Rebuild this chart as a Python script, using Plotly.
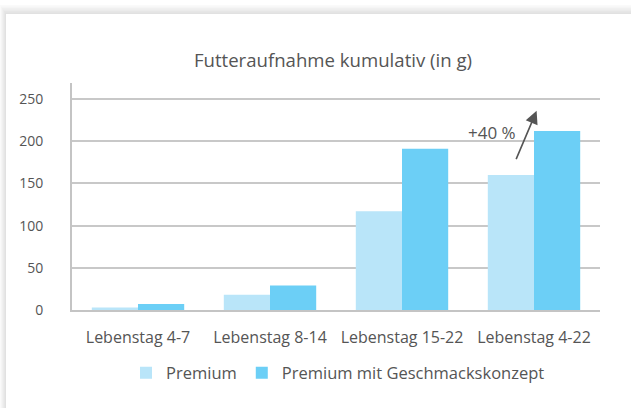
import plotly.graph_objects as go

categories = ["Lebenstag 4-7", "Lebenstag 8-14", "Lebenstag 15-22", "Lebenstag 4-22"]
premium = [3, 18, 117, 160]
premium_gk = [7, 29, 191, 212]
series_names = ["Premium", "Premium mit Geschmackskonzept"]
y_ticks = [0, 50, 100, 150, 200, 250]
annotation_text = "+40 %"

W, H = 631, 408
L, R, T, B = 72, 31, 83, 98
pw, ph = W - L - R, H - T - B
FONT = "Open Sans"
TXT = "#555555"

def px_x(x):
    return (x - L) / pw

def px_y(y):
    return (H - B - y) / ph

fig = go.Figure()
fig.add_trace(go.Bar(x=categories, y=premium, name=series_names[0],
                     marker=dict(color="#b9e5f9", line=dict(width=0))))
fig.add_trace(go.Bar(x=categories, y=premium_gk, name=series_names[1],
                     marker=dict(color="#6ccff6", line=dict(width=0))))

shapes = []
# card shadow
for k in range(6, 0, -1):
    shapes.append(dict(type="rect", xref="paper", yref="paper", layer="below",
                       x0=px_x(6 - k), y0=px_y(420), x1=px_x(640), y1=px_y(14 - 1.5 * k),
                       fillcolor="rgba(0,0,0,0.018)", line=dict(width=0)))
shapes.append(dict(type="rect", xref="paper", yref="paper", layer="below",
                   x0=px_x(6), y0=px_y(420), x1=px_x(640), y1=px_y(14),
                   fillcolor="white", line=dict(width=0)))

fig.update_layout(
    width=W, height=H,
    margin=dict(l=L, r=R, t=T, b=B),
    paper_bgcolor="white", plot_bgcolor="rgba(0,0,0,0)",
    font=dict(family=FONT, color=TXT, size=15),
    barmode="group", bargap=0.3, bargroupgap=0,
    shapes=shapes,
    title=dict(text="Futteraufnahme kumulativ (in g)", xref="paper", x=px_x(333), xanchor="center",
               yref="container", y=1 - 60 / H, yanchor="middle",
               font=dict(size=18.6, color=TXT, family=FONT)),
    showlegend=True,
    legend=dict(orientation="h", x=px_x(338), xanchor="center", y=px_y(373), yanchor="middle",
                font=dict(size=16.5, color=TXT, family=FONT), itemsizing="constant",
                traceorder="normal", itemwidth=30, bgcolor="rgba(0,0,0,0)"),
    xaxis=dict(showgrid=False, showline=True, linecolor="#c4c4c4", linewidth=2,
               ticks="", tickfont=dict(size=16, color=TXT, family=FONT), ticklabelstandoff=12),
    yaxis=dict(range=[0, 269], tickvals=y_ticks, showgrid=True, gridcolor="#c8c8c8", gridwidth=1.5,
               showline=True, linecolor="#c4c4c4", linewidth=2, zeroline=False,
               ticks="", tickfont=dict(size=14, color=TXT, family=FONT), ticklabelstandoff=24),
)

fig.add_annotation(x=3.02, y=236, ax=2.86, ay=177, xref="x", yref="y", axref="x", ayref="y",
                   text="", showarrow=True, arrowhead=2, arrowsize=1.6, arrowwidth=1.6,
                   arrowcolor=TXT)
fig.add_annotation(x=2.68, y=210, xref="x", yref="y", text=annotation_text, showarrow=False,
                   font=dict(size=17, color=TXT, family=FONT))

fig.write_html("out.html", config={"displayModeBar": False},
               post_script="document.body.style.margin='0';document.body.style.overflow='hidden';")
